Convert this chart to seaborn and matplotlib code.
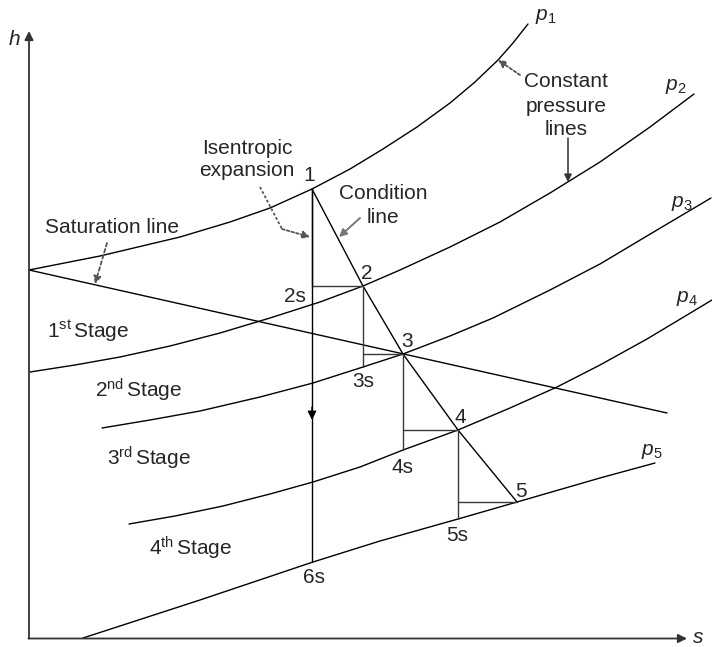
import matplotlib
matplotlib.use("Agg")
import matplotlib.pyplot as plt
import seaborn as sns

# ---------------- data (s, h in diagram units) ----------------
p1_s = [29, 100, 180, 230, 270, 312, 350, 383, 417, 450, 475, 498, 513, 528]
p1_h = [377, 391, 410, 425, 439, 458, 478, 498, 520, 544, 565, 587, 604, 623]

p2_s = [30, 75, 120, 170, 220, 270, 320, 363, 400, 450, 500, 550, 600, 650, 694]
p2_h = [275, 282, 290, 301, 314, 329, 345, 361, 377, 400, 425, 454, 485, 520, 553]

p3_s = [102, 150, 200, 260, 313, 363, 403, 450, 493, 550, 600, 657, 711]
p3_h = [219, 227, 236, 250, 264, 280, 293, 311, 329, 357, 383, 417, 449]

p4_s = [129, 175, 223, 270, 313, 360, 403, 458, 510, 557, 600, 647, 712]
p4_h = [123, 131, 141, 153, 165, 180, 197, 217, 239, 260, 282, 308, 347]

p5_s = [83, 200, 313, 380, 458, 517, 600, 655]
p5_h = [9, 47, 85, 106, 128, 145, 169, 184]

sat_s = [29, 667]
sat_h = [377, 234]

# states on the condition line 1..5
state_labels = ["1", "2", "3", "4", "5"]
state_s = [312, 363, 403, 458, 517]
state_h = [458, 361, 293, 217, 145]
# isentropic end points 2s..5s
iso_labels = ["2s", "3s", "4s", "5s"]
iso_h = [361, 280, 197, 128]
# overall isentropic end 6s
s6_h = 85

pressure_labels = ["$p_{\\mathrm{1}}$", "$p_{\\mathrm{2}}$", "$p_{\\mathrm{3}}$",
                   "$p_{\\mathrm{4}}$", "$p_{\\mathrm{5}}$"]
stage_labels = ["1$^{\\mathrm{st}}\\,$Stage", "2$^{\\mathrm{nd}}\\,$Stage",
                "3$^{\\mathrm{rd}}\\,$Stage", "4$^{\\mathrm{th}}\\,$Stage"]

# ---------------- style ----------------
sns.set_style("white")
plt.rcParams["font.family"] = ["Liberation Sans", "DejaVu Sans"]
plt.rcParams["mathtext.fontset"] = "custom"
plt.rcParams["mathtext.rm"] = "Liberation Sans"
plt.rcParams["mathtext.it"] = "Liberation Sans:italic"
FS = 15

fig = plt.figure(figsize=(7.12, 6.47), dpi=100)
ax = fig.add_axes([0, 0, 1, 1])
ax.set_xlim(0, 712)
ax.set_ylim(0, 647)
ax.axis("off")

LW = 1.0
kw = dict(ax=ax, color="black", linewidth=LW, sort=False, estimator=None, legend=False)

for xs, hs in [(p1_s, p1_h), (p2_s, p2_h), (p3_s, p3_h), (p4_s, p4_h), (p5_s, p5_h), (sat_s, sat_h)]:
    sns.lineplot(x=xs, y=hs, **kw)

# condition line
sns.lineplot(x=state_s, y=state_h, **kw)

# stage steps
step_col = "#3a3a3a"
for i in range(4):
    sns.lineplot(x=[state_s[i], state_s[i]], y=[state_h[i], iso_h[i]], ax=ax, color=step_col,
                 linewidth=LW, sort=False, estimator=None)
    sns.lineplot(x=[state_s[i], state_s[i + 1]], y=[state_h[i + 1], state_h[i + 1]], ax=ax,
                 color=step_col, linewidth=LW, sort=False, estimator=None)

# overall isentropic 1 -> 6s
sns.lineplot(x=[state_s[0], state_s[0]], y=[state_h[0], s6_h], **kw)
ax.annotate("", xy=(state_s[0], 227), xytext=(state_s[0], 240),
            arrowprops=dict(arrowstyle="-|>", color="black", lw=LW, mutation_scale=13,
                            shrinkA=0, shrinkB=0))

# axes with arrows
ax_col = "#333333"
ax.annotate("", xy=(29, 616), xytext=(29, 8.5),
            arrowprops=dict(arrowstyle="-|>", color=ax_col, lw=1.3, mutation_scale=13,
                            shrinkA=0, shrinkB=0))
ax.annotate("", xy=(687, 8.5), xytext=(28.4, 8.5),
            arrowprops=dict(arrowstyle="-|>", color=ax_col, lw=1.3, mutation_scale=13,
                            shrinkA=0, shrinkB=0))
ax.text(9, 602, "h", fontsize=FS, style="italic", va="baseline", ha="left")
ax.text(693, 4, "s", fontsize=FS, style="italic", va="baseline", ha="left")

# state labels
state_lab_pos = [(309, 466), (367, 368), (407, 300), (460, 224), (521, 150)]
for lab, (x, y) in zip(state_labels, state_lab_pos):
    ax.text(x, y, lab, fontsize=FS, ha="center", va="baseline")
iso_lab_pos = [(295, 345), (363, 260), (403, 174), (457, 106)]
for lab, (x, y) in zip(iso_labels, iso_lab_pos):
    ax.text(x, y, lab, fontsize=FS, ha="center", va="baseline")
ax.text(314, 64, "6s", fontsize=FS, ha="center", va="baseline")

# pressure labels
p_pos = [(535, 627), (665, 557), (671, 440), (676, 345), (641, 192)]
for lab, (x, y) in zip(pressure_labels, p_pos):
    ax.text(x, y, lab, fontsize=FS, ha="left", va="baseline")

# stage labels
stage_pos = [(47, 309), (95, 250), (107, 181), (149, 92)]
for lab, (x, y) in zip(stage_labels, stage_pos):
    ax.text(x, y, lab, fontsize=FS, ha="left", va="baseline")

# annotations
ann_col = "#555555"
ax.text(45, 414, "Saturation line", fontsize=FS, ha="left", va="baseline")
ax.annotate("", xy=(95, 363), xytext=(107, 404),
            arrowprops=dict(arrowstyle="-|>", color=ann_col, lw=1.3, ls=(0, (2, 1.5)),
                            mutation_scale=11, shrinkA=0, shrinkB=0))

ax.text(247, 493, "Isentropic", fontsize=FS, ha="center", va="baseline")
ax.text(247, 471, "expansion", fontsize=FS, ha="center", va="baseline")
ax.plot([260, 282], [460, 418], color=ann_col, lw=1.3, ls=(0, (1.5, 1.2)))
ax.annotate("", xy=(310, 410), xytext=(282, 418),
            arrowprops=dict(arrowstyle="-|>", color=ann_col, lw=1.3, ls=(0, (1.5, 1.2)),
                            mutation_scale=11, shrinkA=0, shrinkB=0))

ax.text(383, 448, "Condition", fontsize=FS, ha="center", va="baseline")
ax.text(383, 424, "line", fontsize=FS, ha="center", va="baseline")
ax.annotate("", xy=(339, 410), xytext=(360, 429),
            arrowprops=dict(arrowstyle="-|>", color="#777777", lw=1.4,
                            mutation_scale=11, shrinkA=0, shrinkB=0))

ax.text(566, 560, "Constant", fontsize=FS, ha="center", va="baseline")
ax.text(566, 535, "pressure", fontsize=FS, ha="center", va="baseline")
ax.text(566, 512, "lines", fontsize=FS, ha="center", va="baseline")
ax.annotate("", xy=(498, 587), xytext=(520, 572),
            arrowprops=dict(arrowstyle="-|>", color=ann_col, lw=1.3, ls=(0, (1.5, 1.2)),
                            mutation_scale=11, shrinkA=0, shrinkB=0))
ax.annotate("", xy=(568, 465), xytext=(568, 509),
            arrowprops=dict(arrowstyle="-|>", color="#333333", lw=1.1,
                            mutation_scale=11, shrinkA=0, shrinkB=0))

fig.savefig("out.png", dpi=100)
